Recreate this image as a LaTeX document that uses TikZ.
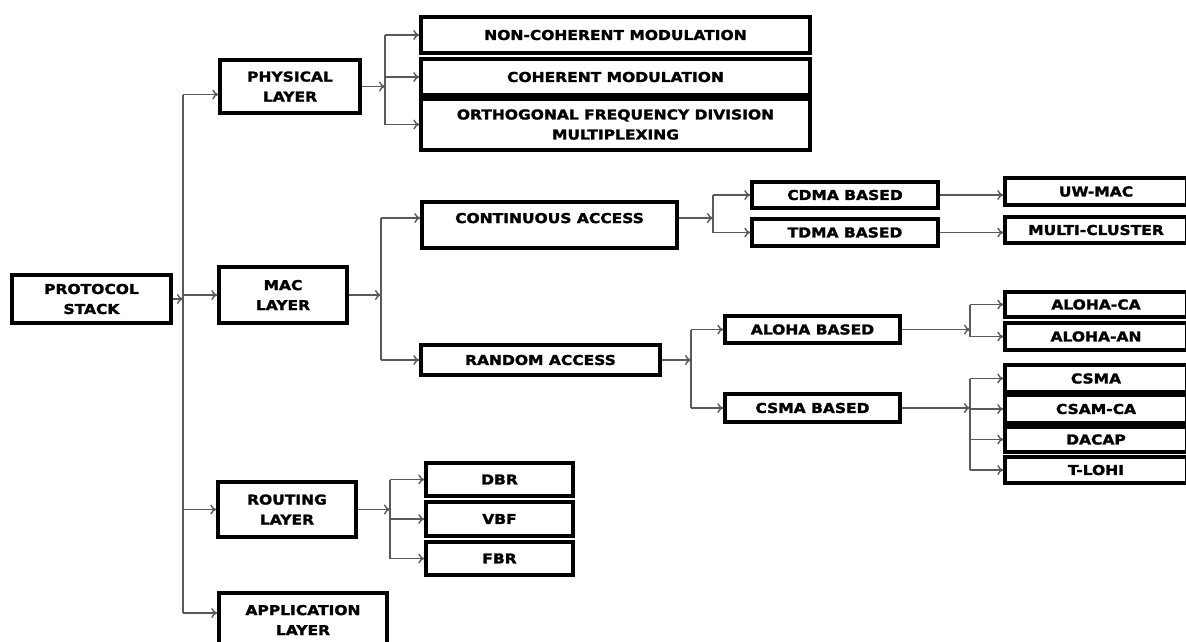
\documentclass[tikz,border=0pt]{standalone}
\usepackage{fontspec}
\newfontfamily\boxfont{DejaVu Sans}[FakeStretch=1.14,FakeBold=1.8]
\usetikzlibrary{positioning,arrows.meta}

\tikzset{
  box/.style={draw, line width=3.4pt, inner sep=0pt, align=center, fill=white,
    font=\boxfont\bfseries\fontsize{13.6}{20}\selectfont},
  wire/.style={draw=black!65, line width=1.5pt},
  conn/.style={wire, -{To[length=6pt,width=10pt,line width=1.4pt]}},
}

\begin{document}
\begin{tikzpicture}[x=1pt,y=-1pt]
\useasboundingbox (0,0) rectangle (1186,641);
\fill[white] (0,0) rectangle (1186,641);

% protocol stack and the four layers
\node[box, minimum width=159, minimum height=48] (stack) at (91.5,299) {PROTOCOL\\STACK};
\node[box, minimum width=140, minimum height=53] (phy) at (290,86.5) {PHYSICAL\\LAYER};
\node[box, minimum width=128, minimum height=56] (mac) at (283,295) {MAC\\LAYER};
\node[box, minimum width=138, minimum height=55] (rout) at (287,509.5) {ROUTING\\LAYER};
\node[box, minimum width=168, minimum height=54] (app) at (303,620) {APPLICATION\\LAYER};

% physical layer
\node[box, minimum width=389, minimum height=36] (nc) at (615.5,35) {NON-COHERENT MODULATION};
\node[box, minimum width=389, minimum height=36] (coh) at (615.5,77) {COHERENT MODULATION};
\node[box, minimum width=389, minimum height=51] (ofdm) at (615.5,124.5) {ORTHOGONAL FREQUENCY DIVISION\\MULTIPLEXING};

% mac layer
\node[box, minimum width=255, minimum height=46, text depth=14pt] (cont) at (549.5,225) {CONTINUOUS ACCESS};
\node[box, minimum width=239, minimum height=30] (rand) at (540.5,360) {RANDOM ACCESS};
\node[box, minimum width=186, minimum height=26] (cdma) at (845,195) {CDMA BASED};
\node[box, minimum width=186, minimum height=27] (tdma) at (845,232.5) {TDMA BASED};
\node[box, minimum width=175, minimum height=27] (aloha) at (812.5,329.5) {ALOHA BASED};
\node[box, minimum width=175, minimum height=28] (csmab) at (812.5,408) {CSMA BASED};
\node[box, minimum width=182, minimum height=27] (uwmac) at (1096,191.5) {UW-MAC};
\node[box, minimum width=182, minimum height=26] (mcl) at (1096,230) {MULTI-CLUSTER};
\node[box, minimum width=182, minimum height=25] (alca) at (1096,304.5) {ALOHA-CA};
\node[box, minimum width=182, minimum height=27] (alan) at (1096,336.5) {ALOHA-AN};
\node[box, minimum width=182, minimum height=27] (csma) at (1096,378.5) {CSMA};
\node[box, minimum width=182, minimum height=28] (csamca) at (1096,409) {CSAM-CA};
\node[box, minimum width=182, minimum height=25] (dacap) at (1096,439.5) {DACAP};
\node[box, minimum width=182, minimum height=26] (tlohi) at (1096,470) {T-LOHI};

% routing layer
\node[box, minimum width=147, minimum height=33] (dbr) at (499.5,479.5) {DBR};
\node[box, minimum width=147, minimum height=34] (vbf) at (499.5,519) {VBF};
\node[box, minimum width=147, minimum height=33] (fbr) at (499.5,558.5) {FBR};

% branch points
\coordinate (trunk) at (183,299);
\coordinate (phyin) at ([yshift=-8pt]phy.west);
\coordinate (appin) at ([yshift=7pt]app.west);
\coordinate (contin) at ([yshift=7pt]cont.west);
\coordinate (contout) at ([yshift=7pt]cont.east);
\coordinate (pb) at (385,86);
\coordinate (mb) at (381,294);
\coordinate (cb) at (713,218);
\coordinate (rb) at (691,360);
\coordinate (ab) at (970,330);
\coordinate (sb) at (970,408);
\coordinate (rtb) at (390,509);

% stack to layers
\draw[conn] (stack.east) -- (trunk);
\draw[wire] (trunk |- phyin) -- (trunk |- appin);
\draw[conn] (trunk |- phyin) -- (phyin);
\draw[conn] (trunk |- mac.west) -- (mac.west);
\draw[conn] (trunk |- rout.west) -- (rout.west);
\draw[conn] (trunk |- appin) -- (appin);

% physical
\draw[conn] (phy.east) -- (phy.east -| pb);
\draw[wire] (pb |- nc.west) -- (pb |- ofdm.west);
\foreach \n in {nc,coh,ofdm}
  \draw[conn] (pb |- \n.west) -- (\n.west);

% mac
\draw[conn] (mac.east) -- (mac.east -| mb);
\draw[wire] (mb |- contin) -- (mb |- rand.west);
\draw[conn] (mb |- contin) -- (contin);
\draw[conn] (mb |- rand.west) -- (rand.west);

\draw[conn] (contout) -- (contout -| cb);
\draw[wire] (cb |- cdma.west) -- (cb |- tdma.west);
\draw[conn] (cb |- cdma.west) -- (cdma.west);
\draw[conn] (cb |- tdma.west) -- (tdma.west);
\draw[conn] (cdma.east) -- (cdma.east -| uwmac.west);
\draw[conn] (tdma.east) -- (tdma.east -| mcl.west);

\draw[conn] (rand.east) -- (rb);
\draw[wire] (rb |- aloha.west) -- (rb |- csmab.west);
\draw[conn] (rb |- aloha.west) -- (aloha.west);
\draw[conn] (rb |- csmab.west) -- (csmab.west);

\draw[conn] (aloha.east) -- (aloha.east -| ab);
\draw[wire] (ab |- alca.west) -- (ab |- alan.west);
\draw[conn] (ab |- alca.west) -- (alca.west);
\draw[conn] (ab |- alan.west) -- (alan.west);

\draw[conn] (csmab.east) -- (csmab.east -| sb);
\draw[wire] (sb |- csma.west) -- (sb |- tlohi.west);
\foreach \n in {csma,csamca,dacap,tlohi}
  \draw[conn] (sb |- \n.west) -- (\n.west);

% routing
\draw[conn] (rout.east) -- (rout.east -| rtb);
\draw[wire] (rtb |- dbr.west) -- (rtb |- fbr.west);
\foreach \n in {dbr,vbf,fbr}
  \draw[conn] (rtb |- \n.west) -- (\n.west);
\end{tikzpicture}
\end{document}
